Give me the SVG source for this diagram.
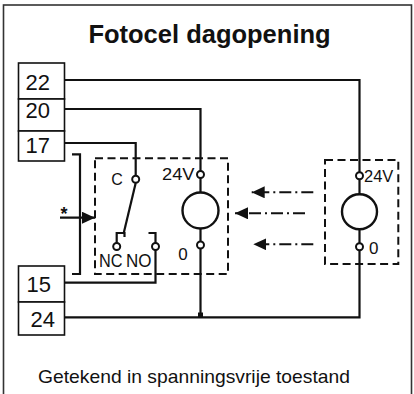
<svg xmlns="http://www.w3.org/2000/svg" width="414" height="394" viewBox="0 0 414 394">
<style>
text{font-family:"Liberation Sans",Arial,sans-serif;fill:#111}
.w{fill:none;stroke:#111;stroke-width:2.2;stroke-linejoin:miter}
.box{fill:#fff;stroke:#111;stroke-width:1.6}
.dash{fill:none;stroke:#111;stroke-width:2;stroke-dasharray:8,4.5}
.term{fill:#fff;stroke:#111;stroke-width:2}
.coil{fill:#fff;stroke:#111;stroke-width:2.4}
.beam{fill:none;stroke:#111;stroke-width:2;stroke-dasharray:12,4,2,4}
.num{font-size:22px}
.lbl{font-size:17px}
</style>
<defs>
<marker id="ah" markerUnits="userSpaceOnUse" markerWidth="13" markerHeight="12" viewBox="0 0 13 12" refX="13" refY="6" orient="auto">
<path d="M0,0 L13,6 L0,12 z" fill="#111"/>
</marker>
</defs>
<rect x="3.5" y="5" width="408" height="400" fill="#fff" stroke="#333" stroke-width="1.6"/>
<text x="209.5" y="42.5" text-anchor="middle" font-size="25.5" font-weight="bold">Fotocel dagopening</text>

<g id="connectors">
<path class="w" d="M64,80 H359.5 V172.2"/>
<path class="w" d="M64,109 H200.5 V171"/>
<path class="w" d="M64,143 H135.7 V175.8"/>
<path class="w" d="M155.5,250 V282.7 H64"/>
<path class="w" d="M64,317.3 H359.5 V250.2"/>
<path class="w" d="M200.5,248.5 V317.3"/>
<rect x="198" y="312.5" width="5" height="5" fill="#111"/>
</g>

<g id="t22"><rect class="box" x="18.5" y="63" width="46" height="36"/><text class="num" x="25.5" y="90">22</text></g>
<g id="t20"><rect class="box" x="18.5" y="99" width="46" height="32"/><text class="num" x="25.5" y="118">20</text></g>
<g id="t17"><rect class="box" x="18.5" y="131" width="46" height="30"/><text class="num" x="25.5" y="152.5">17</text></g>
<g id="t15"><rect class="box" x="18.5" y="266" width="46" height="36"/><text class="num" x="26.5" y="292">15</text></g>
<g id="t24"><rect class="box" x="18.5" y="302" width="46" height="33"/><text class="num" x="30.5" y="327">24</text></g>

<g id="option">
<path class="w" d="M72,154.3 H80 V274 H72"/>
<line class="w" x1="60" y1="217.7" x2="95" y2="217.7" marker-end="url(#ah)"/>
<text x="64" y="219.5" text-anchor="middle" font-size="18" font-weight="bold">*</text>
</g>

<g id="relay">
<rect class="dash" x="95" y="158.3" width="133" height="115.7"/>
<text x="117" y="184.5" text-anchor="middle" font-size="16">C</text>
<path class="w" d="M135.7,183 L123.5,234"/>
<path class="w" d="M116.7,243 V233 H124.5 V237"/>
<path class="w" d="M148.5,233 H155.5 V243"/>
<circle class="term" cx="135.7" cy="179.3" r="3.5"/>
<circle class="term" cx="116.7" cy="246.5" r="3.5"/>
<circle class="term" cx="155.5" cy="246.5" r="3.5"/>
<text x="99" y="266.5" font-size="19" textLength="23.5" lengthAdjust="spacingAndGlyphs">NC</text>
<text x="126" y="266.5" font-size="19" textLength="25.5" lengthAdjust="spacingAndGlyphs">NO</text>
<path class="w" d="M200.5,178 V192.5 M200.5,228.5 V241.5"/>
<circle class="coil" cx="200.5" cy="210.5" r="18"/>
<circle class="term" cx="200.5" cy="174.5" r="3.5"/>
<circle class="term" cx="200.5" cy="245" r="3.5"/>
<text class="lbl" x="162" y="179.5" textLength="32.5" lengthAdjust="spacingAndGlyphs">24V</text>
<text class="lbl" x="178.3" y="260">0</text>
</g>

<g id="beams">
<line class="beam" x1="313.3" y1="192.3" x2="251.7" y2="192.3" marker-end="url(#ah)"/>
<line class="beam" x1="305" y1="213.3" x2="235" y2="213.3" marker-end="url(#ah)"/>
<line class="beam" x1="313.3" y1="244.3" x2="253.3" y2="244.3" marker-end="url(#ah)"/>
</g>

<g id="emitter">
<rect class="dash" x="325" y="160" width="73.3" height="104"/>
<path class="w" d="M359.5,179.2 V194.2 M359.5,229.2 V243.2"/>
<circle class="coil" cx="359.5" cy="211.7" r="17.5"/>
<circle class="term" cx="359.5" cy="175.7" r="3.5"/>
<circle class="term" cx="359.5" cy="246.7" r="3.5"/>
<text class="lbl" x="364" y="181.7" textLength="29.3" lengthAdjust="spacingAndGlyphs">24V</text>
<text class="lbl" x="369" y="254">0</text>
</g>

<text x="194" y="383" text-anchor="middle" font-size="19" textLength="312" lengthAdjust="spacingAndGlyphs">Getekend in spanningsvrije toestand</text>
</svg>
